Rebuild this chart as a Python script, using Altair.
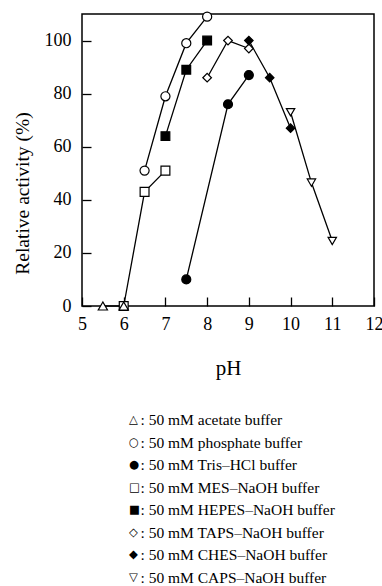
import altair as alt
import pandas as pd

# ---- data ----
buffers = ["acetate", "phosphate", "Tris–HCl", "MES–NaOH",
           "HEPES–NaOH", "TAPS–NaOH", "CHES–NaOH", "CAPS–NaOH"]
glyphs = ["△", "○", "●", "□", "■", "◇", "◆", "▽"]
shapes = ["triangle-up", "circle", "circle", "square",
          "square", "diamond", "diamond", "triangle-down"]
fills = ["white", "white", "black", "white",
         "black", "white", "black", "white"]
sizes = [85, 70, 70, 85, 85, 95, 95, 85]

ph_acetate = [5.5, 6.0]
act_acetate = [0, 0]
ph_phosphate = [6.5, 7.0, 7.5, 8.0]
act_phosphate = [51, 79, 99, 109]
ph_tris = [7.5, 8.5, 9.0]
act_tris = [10, 76, 87]
ph_mes = [6.0, 6.5, 7.0]
act_mes = [0, 43, 51]
ph_hepes = [7.0, 7.5, 8.0]
act_hepes = [64, 89, 100]
ph_taps = [8.0, 8.5, 9.0]
act_taps = [86, 100, 97]
ph_ches = [9.0, 9.5, 10.0]
act_ches = [100, 86, 67]
ph_caps = [10.0, 10.5, 11.0]
act_caps = [73, 46.5, 24.5]

x_ticks = [5, 6, 7, 8, 9, 10, 11, 12]
y_ticks = [0, 20, 40, 60, 80, 100]

series = [
    (ph_acetate, act_acetate),
    (ph_phosphate, act_phosphate),
    (ph_tris, act_tris),
    (ph_mes, act_mes),
    (ph_hepes, act_hepes),
    (ph_taps, act_taps),
    (ph_ches, act_ches),
    (ph_caps, act_caps),
]
# drawing order: acetate on top of the MES square at pH 6
z_order = [9, 1, 2, 3, 4, 5, 6, 7]

rows = []
for name, (xs, ys), z in zip(buffers, series, z_order):
    for x, y in zip(xs, ys):
        rows.append({"buffer": name, "pH": x, "act": y, "z": z})
df = pd.DataFrame(rows)

legend_df = pd.DataFrame({
    "row": list(range(len(buffers))),
    "glyph": glyphs,
    "label": [": 50 mM " + b + " buffer" for b in buffers],
})

FONT = "Liberation Serif"

x_enc = alt.X("pH:Q",
              scale=alt.Scale(domain=[5, 12], nice=False, zero=False),
              axis=alt.Axis(values=x_ticks, title="pH", domain=False,
                            grid=False, tickSize=9, offset=-9,
                            tickColor="black", tickWidth=1.3,
                            labelPadding=9, labelFlush=False,
                            labelOverlap=False, labelFont=FONT,
                            labelFontSize=18, labelColor="black",
                            titleFont=FONT, titleFontSize=21,
                            titleFontWeight="normal", titleColor="black",
                            titlePadding=24))
y_enc = alt.Y("act:Q",
              scale=alt.Scale(domain=[0, 110], nice=False),
              axis=alt.Axis(values=y_ticks, title="Relative activity (%)",
                            domain=False, grid=False, tickSize=9, offset=-9,
                            tickColor="black", tickWidth=1.3,
                            labelPadding=11, labelFlush=False,
                            labelOverlap=False, labelFont=FONT,
                            labelFontSize=18, labelColor="black",
                            titleFont=FONT, titleFontSize=19.5,
                            titleFontWeight="normal", titleColor="black",
                            titlePadding=12, titleY=179))

lines = alt.Chart(df).mark_line(color="black", strokeWidth=1.3).encode(
    x=x_enc, y=y_enc, detail="buffer:N"
)

points = alt.Chart(df).mark_point(
    filled=False, stroke="black", strokeWidth=1.2, opacity=1
).encode(
    x=x_enc, y=y_enc,
    shape=alt.Shape("buffer:N",
                    scale=alt.Scale(domain=buffers, range=shapes),
                    legend=None),
    fill=alt.Fill("buffer:N",
                  scale=alt.Scale(domain=buffers, range=fills),
                  legend=None),
    size=alt.Size("buffer:N",
                  scale=alt.Scale(domain=buffers, range=sizes),
                  legend=None),
    order=alt.Order("z:Q"),
)

plot = alt.layer(lines, points)

row_y = alt.Y("row:Q", scale=alt.Scale(domain=[0, 7], range=[406, 564]),
              axis=None)

legend_glyph = alt.Chart(legend_df).mark_text(
    align="left", baseline="middle", font="DejaVu Sans", fontSize=11.5,
    color="black"
).encode(x=alt.value(47), y=row_y, text="glyph:N")

legend_label = alt.Chart(legend_df).mark_text(
    align="left", baseline="middle", font=FONT, fontSize=15.5,
    color="black"
).encode(x=alt.value(58.5), y=row_y, text="label:N")

legend_block = alt.layer(legend_glyph, legend_label)

chart = alt.layer(plot, legend_block).resolve_scale(y="independent").properties(
    width=292, height=292,
    autosize=alt.AutoSizeParams(type="none"),
    padding={"left": 82, "top": 14, "right": 8, "bottom": 280},
    background="white",
).configure_view(stroke="black", strokeWidth=1.5)

chart.save("out.html", embed_options={"renderer": "svg", "actions": False})
